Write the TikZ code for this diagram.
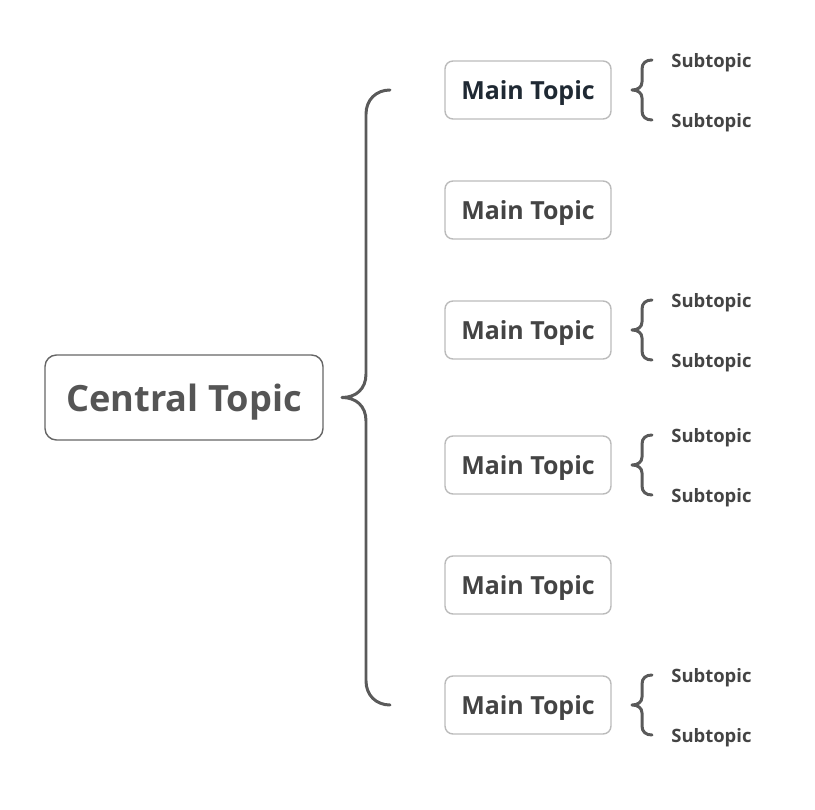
\documentclass[tikz,border=0pt]{standalone}
\usepackage{fontspec}
\setmainfont{Open Sans}

\definecolor{textgray}{HTML}{555555}
\definecolor{darktext}{HTML}{1F2933}
\definecolor{maintext}{HTML}{444444}
\definecolor{boxline}{HTML}{BBBBBB}
\definecolor{braceline}{HTML}{5A5A5A}

\begin{document}
\begin{tikzpicture}[x=0.02cm,y=-0.02cm,
  central/.style={draw=textgray!90, line width=0.8pt, rounded corners=6.5pt,
    minimum width=5.56cm, minimum height=1.7cm, text=textgray, text depth=0pt,
    font=\fontsize{20.6}{24}\selectfont\bfseries},
  maintopic/.style={draw=boxline, line width=0.8pt, rounded corners=4.5pt,
    minimum width=3.32cm, minimum height=1.16cm, text=maintext, text depth=0pt,
    font=\fontsize{14.2}{16}\selectfont\bfseries},
  subtopic/.style={anchor=west, inner sep=0pt, text=maintext, text depth=0pt,
    font=\fontsize{10.5}{12}\selectfont\bfseries},
  bracket/.style={draw=braceline, line width=1.7pt, line cap=round, line join=round}]

\useasboundingbox (0,0) rectangle (815,810);

\node[central] (c) at (184,397.5) {Central Topic};

\node[maintopic, text=darktext] (m1) at (528,90) {Main Topic};

\node[maintopic] (m2) at (528,210) {Main Topic};

\node[maintopic] (m3) at (528,330) {Main Topic};

\node[maintopic] (m4) at (528,465) {Main Topic};

\node[maintopic] (m5) at (528,585) {Main Topic};

\node[maintopic] (m6) at (528,705) {Main Topic};

\node[subtopic] (s1a) at (671,60) {Subtopic};
\node[subtopic] (s1b) at (671,120) {Subtopic};

\node[subtopic] (s3a) at (671,300) {Subtopic};
\node[subtopic] (s3b) at (671,360) {Subtopic};

\node[subtopic] (s4a) at (671,435) {Subtopic};
\node[subtopic] (s4b) at (671,495) {Subtopic};

\node[subtopic] (s6a) at (671,675) {Subtopic};
\node[subtopic] (s6b) at (671,735) {Subtopic};

% big brace from the central topic to the main topics
\coordinate (ctip) at (342,397.5);
\coordinate (ctop) at (390,90);
\coordinate (cbot) at (390,705);

\draw[bracket] (ctop) .. controls (376,90) and (366,100) .. (366,114)
  -- (366,374) .. controls (366,389) and (356,397.5) .. (ctip)
  .. controls (356,397.5) and (366,406) .. (366,421)
  -- (366,681) .. controls (366,695) and (376,705) .. (cbot);

% small braces
\coordinate (t1) at (632,90);
\draw[bracket] (652,60) .. controls (646,60) and (642,63) .. (642,69)
  -- (642,82) .. controls (642,87) and (638,90) .. (t1)
  .. controls (638,90) and (642,93) .. (642,98)
  -- (642,111) .. controls (642,117) and (646,120) .. (652,120);

\coordinate (t3) at (632,330);
\draw[bracket] (652,300) .. controls (646,300) and (642,303) .. (642,309)
  -- (642,322) .. controls (642,327) and (638,330) .. (t3)
  .. controls (638,330) and (642,333) .. (642,338)
  -- (642,351) .. controls (642,357) and (646,360) .. (652,360);

\coordinate (t4) at (632,465);
\draw[bracket] (652,435) .. controls (646,435) and (642,438) .. (642,444)
  -- (642,457) .. controls (642,462) and (638,465) .. (t4)
  .. controls (638,465) and (642,468) .. (642,473)
  -- (642,486) .. controls (642,492) and (646,495) .. (652,495);

\coordinate (t6) at (632,705);
\draw[bracket] (652,675) .. controls (646,675) and (642,678) .. (642,684)
  -- (642,697) .. controls (642,702) and (638,705) .. (t6)
  .. controls (638,705) and (642,708) .. (642,713)
  -- (642,726) .. controls (642,732) and (646,735) .. (652,735);

\end{tikzpicture}
\end{document}
